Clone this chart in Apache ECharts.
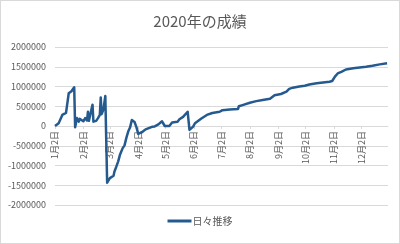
<!DOCTYPE html>
<html><head><meta charset="utf-8">
<script src="https://cdn.jsdelivr.net/npm/echarts@6/dist/echarts.min.js"></script>
<style>
html,body{margin:0;padding:0;background:#fff;}
#wrap{position:relative;width:400px;height:244px;}
#c{position:absolute;left:0;top:0;width:400px;height:244px;}
#frame{position:absolute;left:0;top:0;width:400px;height:244px;box-sizing:border-box;border:1px solid #d9d9d9;pointer-events:none;}
</style></head>
<body><div id="wrap"><div id="c"></div><div id="frame"></div></div>
<script>
const titleText = '2020年の成績';
const seriesName = '日々推移';
const yTicks = [-2000000, 2000000, 500000];
// trading-day points: dates (M/D) and values
const dates = ['1/2','1/6','1/8','1/10','1/14','1/15','1/17','1/20','1/22','1/23','1/24','1/26','1/28','1/29','1/31',
 '2/2','2/4','2/6','2/7','2/8','2/10','2/12','2/13','2/16','2/18','2/20','2/21','2/22','2/24','2/26','2/28',
 '3/2','3/6','3/7','3/9','3/11','3/13','3/16','3/18','3/20','3/22','3/24','3/26','3/27','3/29','3/31',
 '4/2','4/4','4/7','4/10','4/17','4/20','4/24','4/28','4/30','5/1','5/6','5/7','5/9','5/15','5/17','5/21','5/23','5/26','5/28','5/30',
 '6/1','6/3','6/5','6/10','6/16','6/22','6/30','7/3','7/11','7/20','7/21','7/25','8/2','8/9','8/16','8/24','8/25','8/29',
 '9/5','9/11','9/14','9/18','9/25','10/1','10/6','10/14','10/21','10/28','10/31','11/3','11/6','11/10','11/15','11/23','11/30',
 '12/7','12/14','12/22','12/30'];
const values = [0,70000,110000,280000,330000,490000,830000,880000,910000,980000,-30000,200000,110000,180000,150000,
 120000,200000,140000,360000,130000,150000,540000,110000,130000,200000,280000,720000,300000,420000,760000,-1435000,
 -1320000,-1260000,-1150000,-1030000,-900000,-730000,-560000,-490000,-300000,-140000,-40000,150000,190000,100000,-30000,
 -200000,-180000,-140000,-85000,-20000,-10000,40000,120000,150000,0,0,25000,90000,110000,170000,230000,250000,360000,-100000,-145000,
 -15000,70000,110000,190000,280000,330000,360000,400000,420000,430000,500000,530000,590000,630000,660000,690000,740000,780000,
 810000,870000,940000,970000,1000000,1020000,1050000,1080000,1100000,1120000,1140000,1250000,1330000,1370000,1430000,1460000,1480000,
 1500000,1525000,1560000,1590000];

// category axis: every calendar day of 2020 from 1/2 to 12/31
const monthDays = [31,29,31,30,31,30,31,31,30,31,30,31];
const categories = [];
for (let m = 1; m <= 12; m++) {
  for (let d = (m === 1 ? 2 : 1); d <= monthDays[m-1]; d++) categories.push(m + '/' + d);
}
const fmt = s => { const p = s.split('/'); return p[0] + '月' + p[1] + '日'; };
const isTick = (i) => categories[i].split('/')[1] === '2';

const gridTop = 47, gridBottom = 39, H = 244;
// x axis drawn at value 0 (middle of symmetric range)
const zeroOffset = -((H - gridBottom) - (gridTop + (H - gridBottom)) / 2);

const font = '"Noto Sans CJK JP", "Noto Sans", sans-serif';
const chart = echarts.init(document.getElementById('c'), null, {renderer: 'canvas'});
chart.setOption({
  animation: false,
  textStyle: {fontFamily: font},
  title: {text: titleText, left: 'center', top: 9,
    textStyle: {fontSize: 15, fontWeight: 'normal', color: '#595959', fontFamily: font}},
  grid: {left: 55, right: 12, top: gridTop, bottom: gridBottom, containLabel: false},
  legend: {bottom: 13, left: 'center', icon: 'rect', itemWidth: 24, itemHeight: 3, itemGap: 4,
    textStyle: {fontSize: 10, color: '#595959', fontFamily: font, padding: [0,0,0,-4]}, data: [seriesName]},
  xAxis: {type: 'category', data: categories, boundaryGap: false, position: 'bottom', offset: zeroOffset,
    axisLine: {onZero: false, lineStyle: {color: '#d9d9d9'}},
    axisTick: {show: true, interval: (i) => isTick(i), length: 3, lineStyle: {color: '#d9d9d9'}},
    axisLabel: {interval: (i) => isTick(i), rotate: 90, fontSize: 9, color: '#595959', margin: 5,
      formatter: v => fmt(v), fontFamily: font},
    splitLine: {show: false}},
  yAxis: {type: 'value', min: yTicks[0], max: yTicks[1], interval: yTicks[2],
    axisLine: {show: false}, axisTick: {show: false},
    axisLabel: {fontSize: 9, color: '#595959', margin: 9, fontFamily: font, formatter: v => String(v)},
    splitLine: {lineStyle: {color: '#d9d9d9', width: 1}}},
  series: [{name: seriesName, type: 'line', showSymbol: false, symbol: 'none',
    data: dates.map((d, i) => [d, values[i]]),
    lineStyle: {color: '#245a8f', width: 2.5, join: 'round'}, itemStyle: {color: '#245a8f'}}]
});
</script></body></html>
